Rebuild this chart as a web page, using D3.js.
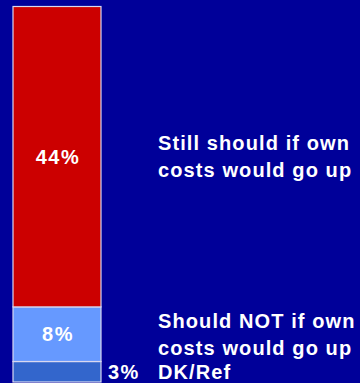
<!DOCTYPE html>
<html>
<head>
<meta charset="utf-8">
<script src="https://cdn.jsdelivr.net/npm/d3@7"></script>
<style>
  html, body { margin: 0; padding: 0; background: #000099; }
  svg { display: block; }
</style>
</head>
<body>
<div id="chart"></div>
<script>
// categories from bottom of the stack to the top
const categories = ["DK/Ref", "Should NOT if own costs would go up", "Still should if own costs would go up"];
const values = [3, 8, 44];
const labelLines = [["DK/Ref"], ["Should NOT if own", "costs would go up"], ["Still should if own", "costs would go up"]];
const colors = ["#3366CC", "#6699FF", "#CC0000"];

const W = 360, H = 383;

const svg = d3.select("#chart").append("svg")
    .attr("width", W)
    .attr("height", H);

svg.append("rect").attr("width", W).attr("height", H).attr("fill", "#000099");

let acc = 0;
const stacked = values.map((v, i) => {
    const d = { cat: categories[i], value: v, y0: acc, y1: acc + v, lines: labelLines[i], color: colors[i] };
    acc += v;
    return d;
});

const y = d3.scaleLinear()
    .domain([0, d3.sum(values)])
    .range([382, 6.5]);

const x = d3.scaleBand()
    .domain(["bar"])
    .range([13, 101])
    .padding(0);

const g = svg.append("g");

g.selectAll("rect.seg")
    .data(stacked)
    .enter()
    .append("rect")
    .attr("class", "seg")
    .attr("x", x("bar"))
    .attr("width", x.bandwidth())
    .attr("y", d => y(d.y1))
    .attr("height", d => y(d.y0) - y(d.y1))
    .attr("fill", d => d.color)
    .attr("stroke", "#d8d8f0")
    .attr("stroke-width", 1.2);

// value labels (small one sits outside the bar)
g.selectAll("text.val")
    .data(stacked)
    .enter()
    .append("text")
    .attr("class", "val")
    .attr("x", d => d.value < 5 ? x("bar") + x.bandwidth() + 7 : x("bar") + x.bandwidth() / 2 + 1)
    .attr("y", d => (y(d.y0) + y(d.y1)) / 2 + 7)
    .attr("text-anchor", d => d.value < 5 ? "start" : "middle")
    .attr("font-family", "Liberation Sans, Arial, sans-serif")
    .attr("font-weight", "bold")
    .attr("font-size", "20px")
    .attr("letter-spacing", "1.5px")
    .attr("fill", "white")
    .text(d => d.value + "%");

// category labels to the right
const lineH = 27;
stacked.forEach(d => {
    const mid = (y(d.y0) + y(d.y1)) / 2;
    const first = mid + 7 - (d.lines.length - 1) * lineH / 2;
    d.lines.forEach((line, j) => {
        g.append("text")
            .attr("x", 158)
            .attr("y", first + j * lineH)
            .attr("font-family", "Liberation Sans, Arial, sans-serif")
            .attr("font-weight", "bold")
            .attr("font-size", "20px")
            .attr("letter-spacing", "1.1px")
            .attr("fill", "white")
            .text(line);
    });
});
</script>
</body>
</html>
